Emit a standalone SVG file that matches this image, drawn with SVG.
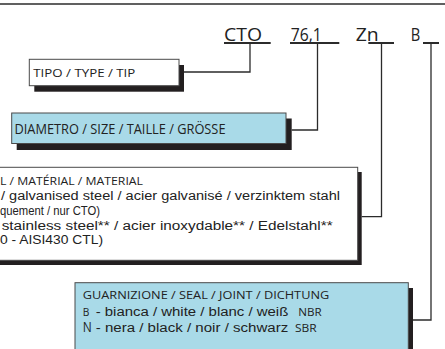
<svg xmlns="http://www.w3.org/2000/svg" width="445" height="349" viewBox="0 0 445 349">
<style>
.bg{fill:#ffffff}
.line{stroke:#2b2b2b;stroke-width:1.3;fill:none}
.ul{stroke:#2b2b2b;stroke-width:2;fill:none}
.box{stroke:#4a4a4a;stroke-width:1;}
.white{fill:#ffffff}
.blue{fill:#a9dae8}
.shadow{fill:#231f20}
.code{font-family:"Open Sans","Noto Sans",sans-serif;font-size:19px;fill:#222}
.cond{font-family:"Open Sans","Noto Sans",sans-serif;fill:#222}
.ar{font-family:"Liberation Sans",Arial,sans-serif;fill:#222;font-size:12.5px}
</style>
<rect class="bg" x="0" y="0" width="445" height="349"/>
<line class="line" x1="0" y1="4" x2="445" y2="4"/>
<g id="codes">
<text class="code" x="224" y="40.7" textLength="38" lengthAdjust="spacingAndGlyphs">CTO</text>
<text class="code" x="290.7" y="40.7" textLength="31" lengthAdjust="spacingAndGlyphs">76,1</text>
<text class="code" x="355.7" y="40.7" textLength="23" lengthAdjust="spacingAndGlyphs">Zn</text>
<text class="code" x="410.7" y="40.7" textLength="9.5" lengthAdjust="spacingAndGlyphs">B</text>
<line class="ul" x1="224" y1="43" x2="270.7" y2="43"/>
<line class="ul" x1="290" y1="43" x2="339.3" y2="43"/>
<line class="ul" x1="368.3" y1="43" x2="394" y2="43"/>
<line class="ul" x1="423" y1="43" x2="439" y2="43"/>
</g>
<g id="connectors">
<polyline class="line" points="250,43 250,72 183.5,72"/>
<polyline class="line" points="317.5,43 317.5,130 291.7,130"/>
<polyline class="line" points="381.5,43 381.5,216.7 361.7,216.7"/>
<polyline class="line" points="431,43 431,320 413,320"/>
</g>
<g id="tipo">
<rect class="shadow" x="34.3" y="65" width="149.7" height="26.7"/>
<rect class="box white" x="29.3" y="59.3" width="149.7" height="26.4"/>
<text class="cond" x="33.3" y="76.7" font-size="11" textLength="102" lengthAdjust="spacingAndGlyphs">TIPO / TYPE / TIP</text>
</g>
<g id="diametro">
<rect class="shadow" x="16.7" y="118.5" width="275" height="31.5"/>
<rect class="box blue" x="11.7" y="113" width="274.3" height="30.5"/>
<text class="cond" x="14.5" y="134" font-size="14" textLength="211" lengthAdjust="spacingAndGlyphs">DIAMETRO / SIZE / TAILLE / GRÖSSE</text>
</g>
<g id="materiale">
<rect class="shadow" x="-5" y="172" width="366.7" height="93"/>
<rect class="box white" x="-10" y="167.3" width="367.7" height="93"/>
<text class="cond" x="0" y="185" font-size="11" textLength="143" lengthAdjust="spacingAndGlyphs">L / MATÉRIAL / MATERIAL</text>
<text class="ar" x="1" y="200" textLength="339" lengthAdjust="spacingAndGlyphs">/ galvanised steel / acier galvanisé / verzinktem stahl</text>
<text class="ar" x="0" y="215" textLength="100" lengthAdjust="spacingAndGlyphs">quement / nur CTO)</text>
<text class="ar" x="1.7" y="229.5" textLength="331" lengthAdjust="spacingAndGlyphs">stainless steel** / acier inoxydable** / Edelstahl**</text>
<text class="ar" x="0" y="243.5" textLength="103" lengthAdjust="spacingAndGlyphs">0 - AISI430 CTL)</text>
</g>
<g id="guarnizione">
<rect class="shadow" x="80" y="288" width="333" height="80"/>
<rect class="box blue" x="75" y="282.7" width="333.3" height="80"/>
<text class="cond" x="82.7" y="299.3" font-size="11" textLength="246.6" lengthAdjust="spacingAndGlyphs">GUARNIZIONE / SEAL / JOINT / DICHTUNG</text>
<text class="cond" x="82.7" y="315.7" font-size="11" textLength="6.6" lengthAdjust="spacingAndGlyphs">B</text>
<text class="ar" x="95.7" y="315.7" textLength="192.6" lengthAdjust="spacingAndGlyphs">- bianca / white / blanc / weiß</text>
<text class="cond" x="298.3" y="315.7" font-size="11" textLength="23.4" lengthAdjust="spacingAndGlyphs">NBR</text>
<text class="cond" x="82.7" y="332.3" font-size="14" textLength="9" lengthAdjust="spacingAndGlyphs">N</text>
<text class="ar" x="95.7" y="332.3" textLength="192.6" lengthAdjust="spacingAndGlyphs">- nera / black / noir / schwarz</text>
<text class="cond" x="295" y="332.3" font-size="11" textLength="21.7" lengthAdjust="spacingAndGlyphs">SBR</text>
</g>
</svg>
